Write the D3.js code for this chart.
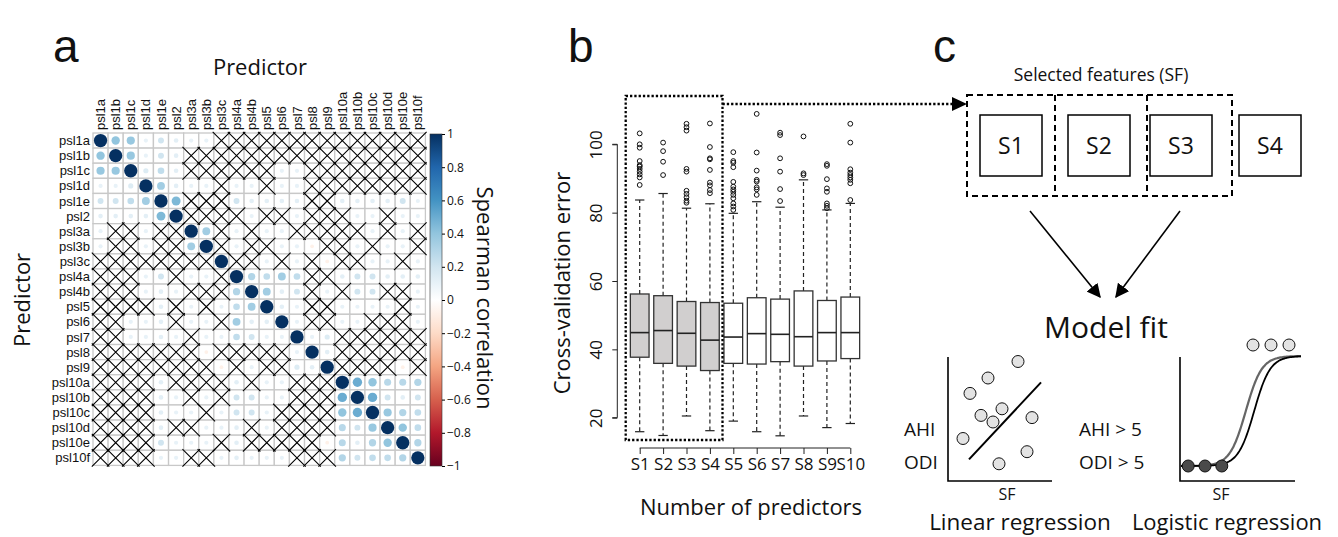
<!DOCTYPE html>
<html><head><meta charset="utf-8">
<script src="https://cdn.jsdelivr.net/npm/d3@7"></script>
<style>
html,body{margin:0;padding:0;background:#fff;}
text{font-family:"Open Sans",sans-serif;fill:#111;}
.letter{font-family:"Liberation Sans",Arial,sans-serif;}
.lab{font-family:"Liberation Sans",Arial,sans-serif;}
</style></head>
<body>
<svg id="fig" width="1338" height="537"></svg>
<script>
// ---------------- DATA ----------------
const varNames = ["psl1a","psl1b","psl1c","psl1d","psl1e","psl2","psl3a","psl3b","psl3c","psl4a","psl4b","psl5","psl6","psl7","psl8","psl9","psl10a","psl10b","psl10c","psl10d","psl10e","psl10f"];
// upper triangle (j > i); null = not significant (crossed)
const N = null;
const corrUpper = [
 [0.40,0.38,0.10,0.20,0.12,0.10,0.10,N,N,N,N,N,N,N,N,N,N,N,N,N,N],
 [0.38,0.10,0.20,0.12,N,N,N,N,N,N,N,N,N,N,N,N,N,N,N,N],
 [0.15,0.25,0.12,N,N,N,N,N,N,0.10,0.10,N,N,N,N,N,N,N,N],
 [0.35,0.12,0.10,0.10,N,0.10,0.10,N,0.10,0.10,N,N,N,N,N,N,N,N],
 [0.45,N,N,N,0.20,0.12,0.12,0.12,0.12,N,N,0.12,0.12,0.12,0.12,0.20,0.10],
 [N,N,N,N,0.10,N,N,0.10,N,N,N,0.10,0.10,N,0.10,0.10],
 [0.35,N,0.10,N,0.10,0.10,N,N,N,N,N,0.10,N,0.10,N],
 [N,0.10,N,N,0.10,0.10,-0.08,N,N,0.10,N,0.10,0.10,N],
 [N,N,0.10,N,0.10,N,-0.08,N,N,0.10,0.10,N,0.10],
 [0.30,0.25,0.35,0.25,N,N,0.12,0.20,0.20,0.12,0.12,0.12],
 [0.35,0.12,0.20,N,0.10,N,0.20,0.20,N,N,0.10],
 [0.12,0.10,N,N,0.10,0.10,0.10,0.10,N,0.10],
 [0.10,N,N,0.10,0.10,N,N,N,0.10],
 [0.10,0.15,N,N,N,N,N,N],
 [0.12,N,N,N,N,N,N],
 [N,N,N,N,-0.08,N],
 [0.50,0.40,0.28,0.28,0.30],
 [0.50,0.20,0.12,0.20],
 [0.38,0.30,0.25],
 [0.40,0.25],
 [0.30]
];
const colorbarTicks = [1,0.8,0.6,0.4,0.2,0,-0.2,-0.4,-0.6,-0.8,-1];

const boxGroups = ["S1","S2","S3","S4","S5","S6","S7","S8","S9","S10"];
const boxLowWhisker = [15.9,14.8,20.5,16.2,19.0,15.9,14.7,20.5,17.1,18.3];
const boxQ1 = [37.7,35.9,35.1,33.8,35.9,35.7,36.4,35.1,36.6,37.3];
const boxMedian = [44.9,45.5,44.7,42.7,43.6,44.6,44.4,43.7,44.9,44.9];
const boxQ3 = [56.2,55.7,54.0,53.7,53.5,55.1,54.7,57.1,54.3,55.3];
const boxHighWhisker = [83.7,85.6,81.3,82.6,79.8,83.2,81.6,89.6,80.8,82.7];
const boxOutliers = [
 [103.2,100.0,99.0,95.1,93.9,93.5,92.8,92.0,91.2,90.3,88.1],
 [100.5,98.0,94.9,91.0],
 [106.0,105.0,104.0,92.8,92.0,86.4,85.5,84.5,83.5,82.9],
 [106.1,99.2,95.9,95.6,92.5,88.8,88.0,86.6,85.7],
 [97.7,95.1,94.6,93.3,89.0,87.6,86.8,86.1,85.2,84.2,82.7,81.8,80.8],
 [108.9,97.6,92.3,89.6,89.1,87.4,86.8,85.2],
 [103.4,102.7,95.9,92.0,86.9,83.4],
 [102.3,91.5,91.0],
 [94.2,93.7,89.8,87.1,86.1,82.7,82.0,81.3],
 [106.0,100.5,92.7,91.7,91.0,90.3,89.6,88.6,83.7]
];
const selectedGroups = ["S1","S2","S3","S4"];
const yTicks = [20,40,60,80,100];

const featureBoxes = ["S1","S2","S3","S4"];
// schematic linear regression points (SF, outcome) in 0-10 units
const linX = [6.6,3.6,1.8,5.0,2.9,4.1,8.0,1.1,7.5,4.7];
const linY = [10.5,9.0,7.6,6.2,5.6,5.0,5.4,3.5,2.3,1.2];
const linFit = [[1.7,1.6],[8.9,8.6]];
// schematic logistic regression points
const logX = [6.0,7.5,9.0,0.6,2.0,3.4];
const logY = [1.1,1.1,1.1,0,0,0];

// ---------------- DRAW ----------------
const svg = d3.select("#fig");
const defs = svg.append("defs");

[["a",53],["b",568],["c",933]].forEach(([t,x])=>{
  svg.append("text").attr("class","letter").attr("x",x).attr("y",62)
    .attr("font-size",46).text(t);
});

// ===== Panel a =====
const corr = varNames.map((_,i)=>varNames.map((_,j)=>{
  if(i===j) return 1;
  const a=Math.min(i,j), b=Math.max(i,j);
  return corrUpper[a][b-a-1];
}));
const bandX = d3.scaleBand().domain(varNames).range([93,425.4]);
const bandY = d3.scaleBand().domain(varNames).range([133,465.4]);
const cs = bandX.bandwidth();
const colScale = d3.scaleLinear().domain(d3.range(11).map(i=>-1+i*0.2))
  .range(["#67001F","#B2182B","#D6604D","#F4A582","#FDDBC7","#FFFFFF","#D1E5F0","#92C5DE","#4393C3","#2166AC","#053061"]);
const ga = svg.append("g");
varNames.forEach(r=>varNames.forEach(c=>{
  ga.append("rect").attr("x",bandX(c)).attr("y",bandY(r)).attr("width",cs).attr("height",cs)
    .attr("fill","#fff").attr("stroke","#c8c8c8").attr("stroke-width",1.3);
}));
corr.forEach((row,i)=>row.forEach((v,j)=>{
  if(v===null) return;
  ga.append("circle").attr("cx",bandX(varNames[j])+cs/2).attr("cy",bandY(varNames[i])+cs/2)
    .attr("r",Math.sqrt(Math.abs(v))*cs*0.44).attr("fill",colScale(v));
}));
corr.forEach((row,i)=>row.forEach((v,j)=>{
  if(v!==null) return;
  const x=bandX(varNames[j]), y=bandY(varNames[i]), e=1.2;
  ga.append("path").attr("d",`M${x-e},${y-e}L${x+cs+e},${y+cs+e}M${x+cs+e},${y-e}L${x-e},${y+cs+e}`)
    .attr("stroke","#000").attr("stroke-width",1.1).attr("fill","none");
}));
varNames.forEach(v=>{
  ga.append("text").attr("class","lab").attr("x",90).attr("y",bandY(v)+cs/2).attr("dy","0.35em")
    .attr("text-anchor","end").attr("font-size",13).text(v);
  ga.append("text").attr("class","lab").attr("transform",`translate(${bandX(v)+cs/2},130) rotate(-90)`)
    .attr("dy","0.35em").attr("font-size",13).text(v);
});
svg.append("text").attr("x",260).attr("y",75).attr("text-anchor","middle").attr("font-size",22).text("Predictor");
svg.append("text").attr("transform","translate(30,300) rotate(-90)").attr("text-anchor","middle").attr("font-size",22).text("Predictor");
const cbY = d3.scaleLinear().domain([-1,1]).range([466,134]);
const grad = defs.append("linearGradient").attr("id","cb").attr("x1",0).attr("y1",1).attr("x2",0).attr("y2",0);
d3.range(0,1.0001,0.05).forEach(t=>grad.append("stop").attr("offset",t).attr("stop-color",colScale(-1+2*t)));
svg.append("rect").attr("x",430).attr("y",134).attr("width",12).attr("height",332).attr("fill","url(#cb)").attr("stroke","#333").attr("stroke-width",0.6);
const cbAxis = d3.axisRight(cbY).tickValues(colorbarTicks).tickSize(3).tickFormat(d=>d===0?"0":d3.format("")(d).replace("-","\u2212"));
const cbg = svg.append("g").attr("transform","translate(442,0)").call(cbAxis);
cbg.select(".domain").remove();
cbg.selectAll("text").attr("font-size",12).attr("x",5).style("font-family","Open Sans");
svg.append("text").attr("transform","translate(477,298) rotate(90)").attr("text-anchor","middle").attr("font-size",22).text("Spearman correlation");

// ===== Panel b =====
const by = d3.scaleLinear().domain([20,100]).range([417.7,144.3]);
const bx = d3.scalePoint().domain(boxGroups).range([639.7,850.3]);
const bw = 18.7;
const gb = svg.append("g");
const yg = gb.append("g").attr("transform","translate(617.3,0)")
  .call(d3.axisLeft(by).tickValues(yTicks).tickSize(5).tickFormat(d3.format("d")));
yg.select(".domain").attr("stroke","#222").attr("d",`M-5,${by(20)}H0V${by(100)}H-5`);
yg.selectAll("line").attr("stroke","#222");
yg.selectAll("text").attr("font-size",17).style("font-family","Open Sans")
  .attr("transform","rotate(-90)").attr("x",0).attr("y",-15).attr("dy",0).attr("text-anchor","middle");
boxGroups.forEach((g,i)=>{
  const cx = bx(g);
  const dash = "4,3";
  gb.append("line").attr("x1",cx).attr("x2",cx).attr("y1",by(boxQ3[i])).attr("y2",by(boxHighWhisker[i])).attr("stroke","#222").attr("stroke-dasharray",dash).attr("stroke-width",1.2);
  gb.append("line").attr("x1",cx).attr("x2",cx).attr("y1",by(boxQ1[i])).attr("y2",by(boxLowWhisker[i])).attr("stroke","#222").attr("stroke-dasharray",dash).attr("stroke-width",1.2);
  [boxHighWhisker[i],boxLowWhisker[i]].forEach(v=>gb.append("line").attr("x1",cx-bw/4).attr("x2",cx+bw/4).attr("y1",by(v)).attr("y2",by(v)).attr("stroke","#222").attr("stroke-width",1.2));
  gb.append("rect").attr("x",cx-bw/2).attr("width",bw).attr("y",by(boxQ3[i])).attr("height",by(boxQ1[i])-by(boxQ3[i]))
    .attr("fill",selectedGroups.includes(g)?"#d1cfcf":"#fff").attr("stroke","#333").attr("stroke-width",1.3);
  gb.append("line").attr("x1",cx-bw/2).attr("x2",cx+bw/2).attr("y1",by(boxMedian[i])).attr("y2",by(boxMedian[i])).attr("stroke","#222").attr("stroke-width",1.6);
  boxOutliers[i].forEach(v=>gb.append("circle").attr("cx",cx).attr("cy",by(v)).attr("r",2.4).attr("fill","none").attr("stroke","#111").attr("stroke-width",1));
});
const xg = gb.append("g").attr("transform","translate(0,448)").call(d3.axisBottom(bx).tickSize(6).tickPadding(4));
xg.select(".domain").attr("d",`M${bx("S1")},0H${bx("S10")}`).attr("stroke","#222");
xg.selectAll("line").attr("stroke","#222");
xg.selectAll("text").attr("font-size",17).style("font-family","Open Sans");
gb.append("text").attr("x",751).attr("y",515).attr("text-anchor","middle").attr("font-size",22).text("Number of predictors");
gb.append("text").attr("transform","translate(570,283) rotate(-90)").attr("text-anchor","middle").attr("font-size",22).text("Cross-validation error");
const selL = bx("S1")-14, selR = bx("S4")+12.6;
gb.append("rect").attr("x",selL).attr("y",96).attr("width",selR-selL).attr("height",344)
  .attr("fill","none").attr("stroke","#000").attr("stroke-width",2.3).attr("stroke-dasharray","2.3,2");
gb.append("line").attr("x1",selR).attr("x2",955).attr("y1",104).attr("y2",104).attr("stroke","#000").attr("stroke-width",2.3).attr("stroke-dasharray","2.3,2");
gb.append("path").attr("d","M967,104L952,97L952,111Z").attr("fill","#000");

// ===== Panel c =====
const gc = svg.append("g");
gc.append("text").attr("x",1101).attr("y",81).attr("text-anchor","middle").attr("font-size",17.5).text("Selected features (SF)");
const fxs = {S1:1011,S2:1099,S3:1181,S4:1270};
gc.append("rect").attr("x",967).attr("y",95).attr("width",265).attr("height",101).attr("fill","none").attr("stroke","#000").attr("stroke-width",2).attr("stroke-dasharray","6,4");
[1055,1147].forEach(x=>gc.append("line").attr("x1",x).attr("x2",x).attr("y1",95).attr("y2",196).attr("stroke","#000").attr("stroke-width",2).attr("stroke-dasharray","6,4"));
featureBoxes.forEach(f=>{
  const cx = fxs[f];
  gc.append("rect").attr("x",cx-31).attr("y",115).attr("width",62).attr("height",61).attr("fill","#fff").attr("stroke","#000").attr("stroke-width",1.5);
  gc.append("text").attr("x",cx).attr("y",146).attr("dy","0.35em").attr("text-anchor","middle").attr("font-size",23).text(f);
});
defs.append("marker").attr("id","ah").attr("viewBox","0 0 10 10").attr("refX",9).attr("refY",5).attr("markerWidth",14).attr("markerHeight",14).attr("markerUnits","userSpaceOnUse").attr("orient","auto")
  .append("path").attr("d","M0,0L10,5L0,10Z").attr("fill","#000");
gc.append("line").attr("x1",1030).attr("y1",211).attr("x2",1100).attr("y2",297).attr("stroke","#000").attr("stroke-width",1.6).attr("marker-end","url(#ah)");
gc.append("line").attr("x1",1180).attr("y1",211).attr("x2",1116).attr("y2",297).attr("stroke","#000").attr("stroke-width",1.6).attr("marker-end","url(#ah)");
gc.append("text").attr("x",1106).attr("y",338).attr("text-anchor","middle").attr("font-size",30).text("Model fit");

const lx = d3.scaleLinear().domain([0,10]).range([952,1052]);
const ly = d3.scaleLinear().domain([0,10]).range([477,367]);
gc.append("path").attr("d","M948,357V481H1052").attr("fill","none").attr("stroke","#000").attr("stroke-width",1.6);
gc.append("line").attr("x1",lx(linFit[0][0])).attr("y1",ly(linFit[0][1])).attr("x2",lx(linFit[1][0])).attr("y2",ly(linFit[1][1])).attr("stroke","#000").attr("stroke-width",2);
linX.forEach((x,i)=>gc.append("circle").attr("cx",lx(x)).attr("cy",ly(linY[i])).attr("r",6).attr("fill","#e3e3e3").attr("stroke","#111").attr("stroke-width",1));
gc.append("text").attr("x",904).attr("y",436).attr("font-size",19).text("AHI");
gc.append("text").attr("x",904).attr("y",469).attr("font-size",19).text("ODI");
gc.append("text").attr("x",1007).attr("y",500).attr("text-anchor","middle").attr("font-size",16).text("SF");
gc.append("text").attr("x",1020).attr("y",530).attr("text-anchor","middle").attr("font-size",22.5).text("Linear regression");

const gx = d3.scaleLinear().domain([0,10]).range([1181,1301]);
const gy = d3.scaleLinear().domain([0,1]).range([466,356]);
gc.append("path").attr("d","M1180,357V481H1295").attr("fill","none").attr("stroke","#000").attr("stroke-width",1.6);
const sig = (x0,k)=>d3.range(0,10.01,0.1).map(x=>[x,1/(1+Math.exp(-k*(x-x0)))]);
const lineG = d3.line().x(d=>gx(d[0])).y(d=>gy(d[1])).curve(d3.curveBasis);
gc.append("path").attr("d",lineG(sig(5.4,1.5))).attr("fill","none").attr("stroke","#666").attr("stroke-width",2.2);
gc.append("path").attr("d",lineG(sig(6.1,1.5))).attr("fill","none").attr("stroke","#000").attr("stroke-width",1.8);
logX.forEach((x,i)=>gc.append("circle").attr("cx",gx(x)).attr("cy",gy(logY[i])).attr("r",6).attr("fill",logY[i]>0.5?"#e3e3e3":"#4a4a4a").attr("stroke","#111").attr("stroke-width",1));
gc.append("text").attr("x",1079).attr("y",436).attr("font-size",19).text("AHI > 5");
gc.append("text").attr("x",1079).attr("y",469).attr("font-size",19).text("ODI > 5");
gc.append("text").attr("x",1221).attr("y",500).attr("text-anchor","middle").attr("font-size",16).text("SF");
gc.append("text").attr("x",1227).attr("y",530).attr("text-anchor","middle").attr("font-size",22).text("Logistic regression");
</script>
</body></html>
